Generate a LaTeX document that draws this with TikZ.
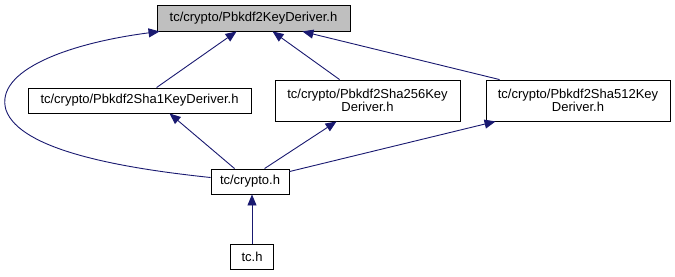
\documentclass[tikz,border=0pt]{standalone}
\usepackage{fontspec}
\setmainfont{Liberation Sans}
\usetikzlibrary{arrows.meta}
\definecolor{edgeblue}{RGB}{25,25,112}
\definecolor{nodegray}{RGB}{191,191,191}
\begin{document}
\begin{tikzpicture}[x=1pt,y=-1pt,
  filebox/.style={draw=black, line width=0.9pt, fill=white, inner sep=0pt,
    align=center, font=\fontsize{13}{13.5}\selectfont},
  dep/.style={draw=edgeblue, line width=0.9pt,
    -{Triangle[length=11pt,width=9pt]}}]
\useasboundingbox (0,0) rectangle (675,276);

% header files
\node[filebox, fill=nodegray, minimum width=193pt, minimum height=26pt]
  (kd) at (253.5,18) {tc/crypto/Pbkdf2KeyDeriver.h};
\node[filebox, minimum width=223pt, minimum height=25pt]
  (sha1) at (139.5,100.5) {tc/crypto/Pbkdf2Sha1KeyDeriver.h};
\node[filebox, minimum width=185pt, minimum height=41pt]
  (sha256) at (367.5,100.5) {tc/crypto/Pbkdf2Sha256Key\\Deriver.h};
\node[filebox, minimum width=184pt, minimum height=41pt]
  (sha512) at (578,100.5) {tc/crypto/Pbkdf2Sha512Key\\Deriver.h};
\node[filebox, minimum width=78pt, minimum height=25pt]
  (crypto) at (250,181.5) {tc/crypto.h};
\node[filebox, minimum width=43pt, minimum height=25pt]
  (tc) at (252,256.5) {tc.h};

% include dependencies
\draw[dep] ([xshift=129pt]sha1.north west) -- ([xshift=80pt]kd.south west);
\draw[dep] ([xshift=65pt]sha256.north west) -- ([xshift=116pt]kd.south west);
\draw[dep] ([xshift=14pt]sha512.north west) -- ([xshift=-48pt]kd.south east);
\draw[dep] ([yshift=4pt]crypto.west)
  .. controls (120,168) and (20,150) .. (6,110)
  .. controls (-6,70) and (70,43) .. ([xshift=3pt]kd.south west);
\draw[dep] ([xshift=24pt]crypto.north west) -- ([xshift=142pt]sha1.south west);
\draw[dep] ([xshift=54pt]crypto.north west) -- ([xshift=62pt]sha256.south west);
\draw[dep] ([yshift=-3pt]crypto.north east) -- ([xshift=10pt]sha512.south west);
\draw[dep] (tc.north) -- (tc.north |- crypto.south);
\end{tikzpicture}
\end{document}
